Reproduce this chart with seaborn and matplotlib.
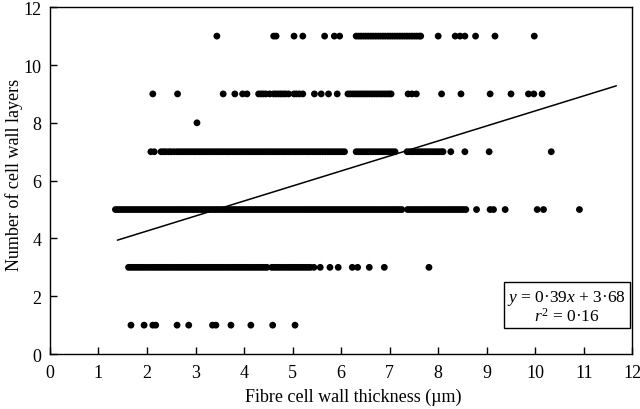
import numpy as np
import pandas as pd
import seaborn as sns
import matplotlib.pyplot as plt

# fibre cell wall thickness (um) for each number of wall layers
x_layers_1 = [1.67, 1.94, 2.12, 2.18, 2.62, 2.86, 3.35, 3.42, 3.73, 4.14, 4.59, 5.05]
x_layers_3 = [1.62, 1.67, 1.72, 1.77, 1.82, 1.87, 1.92, 1.97, 2.02, 2.07, 2.12, 2.17,
              2.22, 2.27, 2.32, 2.37, 2.42, 2.47, 2.52, 2.57, 2.62, 2.67, 2.72, 2.77,
              2.82, 2.87, 2.92, 2.97, 3.02, 3.07, 3.12, 3.17, 3.22, 3.27, 3.32, 3.37,
              3.42, 3.47, 3.52, 3.57, 3.62, 3.67, 3.72, 3.77, 3.82, 3.87, 3.92, 3.97,
              4.02, 4.07, 4.12, 4.17, 4.22, 4.27, 4.32, 4.37, 4.42, 4.47,
              4.57, 4.62, 4.67, 4.72, 4.77, 4.82, 4.87, 4.92, 4.97, 5.02, 5.07, 5.12,
              5.17, 5.22, 5.27, 5.32, 5.37, 5.44,
              5.57, 5.77, 5.94, 6.23, 6.34, 6.58, 6.89, 7.81]
x_layers_5 = [1.35, 1.40, 1.45, 1.50, 1.55, 1.60, 1.65, 1.70, 1.75, 1.80, 1.85, 1.90,
              1.95, 2.00, 2.05, 2.10, 2.15, 2.20, 2.25, 2.30, 2.35, 2.40, 2.45, 2.50,
              2.55, 2.60, 2.65, 2.70, 2.75, 2.80, 2.85, 2.90, 2.95, 3.00, 3.05, 3.10,
              3.15, 3.20, 3.25, 3.30, 3.35, 3.40, 3.45, 3.50, 3.55, 3.60, 3.65, 3.70,
              3.75, 3.80, 3.85, 3.90, 3.95, 4.00, 4.05, 4.10, 4.15, 4.20, 4.25, 4.30,
              4.35, 4.40, 4.45, 4.50, 4.55, 4.60, 4.65, 4.70, 4.75, 4.80, 4.85, 4.90,
              4.95, 5.00, 5.05, 5.10, 5.15, 5.20, 5.25, 5.30, 5.35, 5.40, 5.45, 5.50,
              5.55, 5.60, 5.65, 5.70, 5.75, 5.80, 5.85, 5.90, 5.95, 6.00, 6.05, 6.10,
              6.15, 6.20, 6.25, 6.30, 6.35, 6.40, 6.45, 6.50, 6.55, 6.60, 6.65, 6.70,
              6.75, 6.80, 6.85, 6.90, 6.95, 7.00, 7.05, 7.10, 7.15, 7.20, 7.25,
              7.37, 7.42, 7.47, 7.52, 7.57, 7.62, 7.67, 7.72, 7.77, 7.82, 7.87, 7.92,
              7.97, 8.02, 8.07, 8.12, 8.17, 8.22, 8.27, 8.32, 8.37, 8.42, 8.47, 8.52,
              8.57, 8.79, 9.07, 9.14, 9.38, 10.04, 10.17, 10.91]
x_layers_7 = [2.08, 2.15, 2.29, 2.34, 2.39, 2.45, 2.50, 2.56,
              2.62, 2.67, 2.72, 2.77, 2.82, 2.87, 2.92, 2.97, 3.02, 3.07, 3.12, 3.17,
              3.22, 3.27, 3.32, 3.37, 3.42, 3.47, 3.52, 3.57, 3.62, 3.67, 3.72, 3.77,
              3.82, 3.87, 3.92, 3.97, 4.02, 4.07, 4.12, 4.17, 4.22, 4.27, 4.32, 4.37,
              4.42, 4.47, 4.52, 4.57, 4.62, 4.67, 4.72, 4.77, 4.82, 4.87, 4.92, 4.97,
              5.02, 5.07, 5.12, 5.17, 5.22, 5.27, 5.32, 5.37, 5.42, 5.47, 5.52, 5.57,
              5.62, 5.67, 5.72, 5.77, 5.82, 5.87, 5.92, 5.97, 6.02, 6.07,
              6.31, 6.36, 6.41, 6.46, 6.51, 6.56, 6.61, 6.66, 6.71, 6.76, 6.81, 6.86,
              6.91, 6.96, 7.01, 7.06, 7.11,
              7.36, 7.41, 7.46, 7.51, 7.56, 7.61, 7.66, 7.71, 7.76, 7.81, 7.86, 7.91,
              7.96, 8.01, 8.06, 8.10, 8.26, 8.55, 9.05, 10.33]
x_layers_8 = [3.03]
x_layers_9 = [2.12, 2.63, 3.57, 3.81, 3.97, 4.06, 4.30, 4.35, 4.40, 4.45, 4.53, 4.61,
              4.66, 4.71, 4.76, 4.81, 4.86, 4.92, 5.03, 5.08, 5.14, 5.21, 5.45, 5.59,
              5.74, 5.92, 6.14, 6.19, 6.24, 6.29, 6.34, 6.39, 6.44, 6.49, 6.54, 6.59,
              6.64, 6.69, 6.74, 6.79, 6.84, 6.89, 6.94, 6.99, 7.03, 7.38, 7.46, 7.55,
              8.07, 8.47, 9.07, 9.50, 9.86, 9.97, 10.14]
x_layers_11 = [3.44, 4.61, 4.66, 5.03, 5.21, 5.66, 5.86, 5.97, 6.31, 6.36, 6.41, 6.46,
               6.51, 6.56, 6.61, 6.66, 6.71, 6.76, 6.81, 6.86, 6.91, 6.96, 7.01, 7.06,
               7.11, 7.16, 7.21, 7.26, 7.31, 7.36, 7.41, 7.46, 7.51, 7.56, 7.61, 7.64,
               8.00, 8.35, 8.45, 8.55, 8.77, 9.17, 9.98]

# fitted line as drawn
fit_x = [1.39, 11.67]
fit_y = [3.94, 9.28]

groups = {1: x_layers_1, 3: x_layers_3, 5: x_layers_5, 7: x_layers_7,
          8: x_layers_8, 9: x_layers_9, 11: x_layers_11}
df = pd.concat([pd.DataFrame({"thickness": xs, "layers": n}) for n, xs in groups.items()],
               ignore_index=True)

sns.set_theme(style="ticks")
plt.rcParams["font.family"] = ["Liberation Serif", "DejaVu Serif"]
plt.rcParams["mathtext.fontset"] = "custom"
plt.rcParams["mathtext.rm"] = "Liberation Serif"
plt.rcParams["mathtext.it"] = "Liberation Serif:italic"
plt.rcParams["text.color"] = "black"
plt.rcParams["axes.labelcolor"] = "black"
plt.rcParams["xtick.color"] = "black"
plt.rcParams["ytick.color"] = "black"

dpi = 100
fig, ax = plt.subplots(figsize=(640 / dpi, 410 / dpi), dpi=dpi)
fig.subplots_adjust(left=0.078, right=0.988, bottom=0.134, top=0.98)

sns.scatterplot(data=df, x="thickness", y="layers", ax=ax, color="black",
                s=24, edgecolor="none", zorder=3)
sns.lineplot(x=fit_x, y=fit_y, ax=ax, color="black", linewidth=1.1)

ax.set_xlim(0, 12)
ax.set_ylim(0, 12)
ax.set_xticks(range(0, 13))
ax.set_yticks(range(0, 13, 2))
ax.tick_params(direction="in", length=5, width=1, labelsize=13, color="black")
ax.tick_params(axis="x", pad=7)
ax.tick_params(axis="y", pad=6)
for sp in ax.spines.values():
    sp.set_visible(True)
    sp.set_color("black")
    sp.set_linewidth(1)
ax.set_xlabel("Fibre cell wall thickness (µm)", fontsize=13)
ax.set_ylabel("Number of cell wall layers", fontsize=13)
ax.xaxis.set_label_coords(0.52, -0.097)
ax.yaxis.set_label_coords(-0.047, 0.52)

ax.text(10.65, 1.65, "$y$ = 0·39$x$ + 3·68\n$r^2$ = 0·16", ha="center", va="center",
        fontsize=12.5, linespacing=1.0,
        bbox=dict(boxstyle="square,pad=0.2", facecolor="white", edgecolor="black", linewidth=1))

fig.savefig("out.png", dpi=dpi)
